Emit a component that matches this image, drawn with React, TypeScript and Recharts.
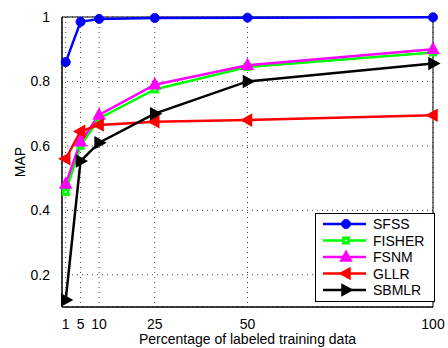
import React from 'react';
import {
  LineChart,
  Line,
  XAxis,
  YAxis,
  CartesianGrid,
  ReferenceArea
} from 'recharts';

const FONT = '"Liberation Sans", Arial, sans-serif';
const FS = 14;

// percentage of labeled training data
const xValues = [1, 5, 10, 25, 50, 100];
const xTicks = [1, 5, 10, 25, 50, 100];
const yTicks = [0.2, 0.4, 0.6, 0.8, 1];

// MAP per method
const sfss = [0.86, 0.985, 0.994, 0.997, 0.998, 0.999];
const fisher = [0.457, 0.6, 0.685, 0.775, 0.845, 0.89];
const fsnm = [0.482, 0.613, 0.696, 0.79, 0.85, 0.9];
const gllr = [0.56, 0.645, 0.665, 0.675, 0.68, 0.695];
const sbmlr = [0.122, 0.553, 0.61, 0.7, 0.8, 0.856];

type Shape = 'circle' | 'square' | 'up' | 'left' | 'right';

const series: Array<{ key: string; color: string; shape: Shape; values: number[] }> = [
  { key: 'SFSS', color: '#0000ff', shape: 'circle', values: sfss },
  { key: 'FISHER', color: '#00ff00', shape: 'square', values: fisher },
  { key: 'FSNM', color: '#ff00ff', shape: 'up', values: fsnm },
  { key: 'GLLR', color: '#ff0000', shape: 'left', values: gllr },
  { key: 'SBMLR', color: '#000000', shape: 'right', values: sbmlr }
];

const data = xValues.map((x, i) => {
  const row: any = { x };
  series.forEach((s) => {
    row[s.key] = s.values[i];
  });
  return row;
});

const Marker = ({ cx, cy, shape, color }: { cx: number; cy: number; shape: Shape; color: string }) => {
  switch (shape) {
    case 'circle':
      return <circle cx={cx} cy={cy} r={4.5} fill={color} stroke={color} />;
    case 'square':
      return (
        <g>
          <rect x={cx - 3.5} y={cy - 3.5} width={7} height={7} fill={color} stroke={color} />
          <rect x={cx - 1} y={cy - 1} width={2} height={2} fill="#ccffcc" />
        </g>
      );
    case 'up':
      return (
        <polygon
          points={`${cx},${cy - 6} ${cx - 5.5},${cy + 4} ${cx + 5.5},${cy + 4}`}
          fill={color}
          stroke={color}
          strokeWidth={1.5}
        />
      );
    case 'left':
      return (
        <polygon
          points={`${cx - 6},${cy} ${cx + 4},${cy - 5.5} ${cx + 4},${cy + 5.5}`}
          fill={color}
          stroke={color}
          strokeWidth={1.5}
        />
      );
    case 'right':
      return (
        <polygon
          points={`${cx + 6},${cy} ${cx - 4},${cy - 5.5} ${cx - 4},${cy + 5.5}`}
          fill={color}
          stroke={color}
          strokeWidth={1.5}
        />
      );
    default:
      return null;
  }
};

const LegendBox = () => (
  <svg width={120} height={89} style={{ display: 'block' }}>
    <rect x={0.5} y={0.5} width={119} height={88} fill="#fff" stroke="#000" />
    {series.map((s, i) => {
      const y = 11 + i * 16.5;
      return (
        <g key={s.key}>
          <line x1={8} x2={51} y1={y} y2={y} stroke={s.color} strokeWidth={2.5} />
          <Marker cx={31} cy={y} shape={s.shape} color={s.color} />
          <text x={58} y={y + 5} fontSize={FS} fontFamily={FONT} fill="#000">
            {s.key}
          </text>
        </g>
      );
    })}
  </svg>
);

export default function App() {
  return (
    <div style={{ position: 'absolute', left: 0, top: 0, width: 448, height: 348, background: '#fff' }}>
      <LineChart
        width={448}
        height={348}
        data={data}
        margin={{ top: 17, right: 15, left: 0, bottom: 0 }}
      >
        <CartesianGrid stroke="#444" strokeDasharray="1 4" strokeWidth={1} />
        <XAxis
          dataKey="x"
          type="number"
          domain={[0, 100]}
          ticks={xTicks}
          height={41}
          interval={0}
          stroke="#000"
          tickLine={false}
          tick={{ fill: '#000', fontSize: FS, fontFamily: FONT }}
          tickMargin={6}
          label={{
            value: 'Percentage of labeled training data',
            position: 'insideBottom',
            offset: 4,
            fill: '#000',
            fontSize: FS,
            fontFamily: FONT
          }}
        />
        <YAxis
          type="number"
          domain={[0.1, 1]}
          ticks={yTicks}
          width={62}
          interval={0}
          stroke="#000"
          tickLine={false}
          tickFormatter={(v: number) => String(v)}
          tick={{ fill: '#000', fontSize: FS, fontFamily: FONT }}
          tickMargin={6}
          label={{
            content: () => (
              <text
                x={25}
                y={162}
                transform="rotate(-90 25 162)"
                textAnchor="middle"
                fontSize={FS}
                fontFamily={FONT}
                fill="#000"
              >
                MAP
              </text>
            )
          }}
        />
        <ReferenceArea x1={0} x2={100} y1={0.1} y2={1} fill="none" stroke="#000" strokeWidth={1} ifOverflow="visible" />
        {series.map((s) => (
          <Line
            key={s.key}
            dataKey={s.key}
            stroke={s.color}
            strokeWidth={2.5}
            isAnimationActive={false}
            dot={(p: any) => <Marker key={`${s.key}-${p.index}`} cx={p.cx} cy={p.cy} shape={s.shape} color={s.color} />}
            activeDot={false}
          />
        ))}
      </LineChart>
      <div style={{ position: 'absolute', left: 315, top: 213 }}>
        <LegendBox />
      </div>
    </div>
  );
}
